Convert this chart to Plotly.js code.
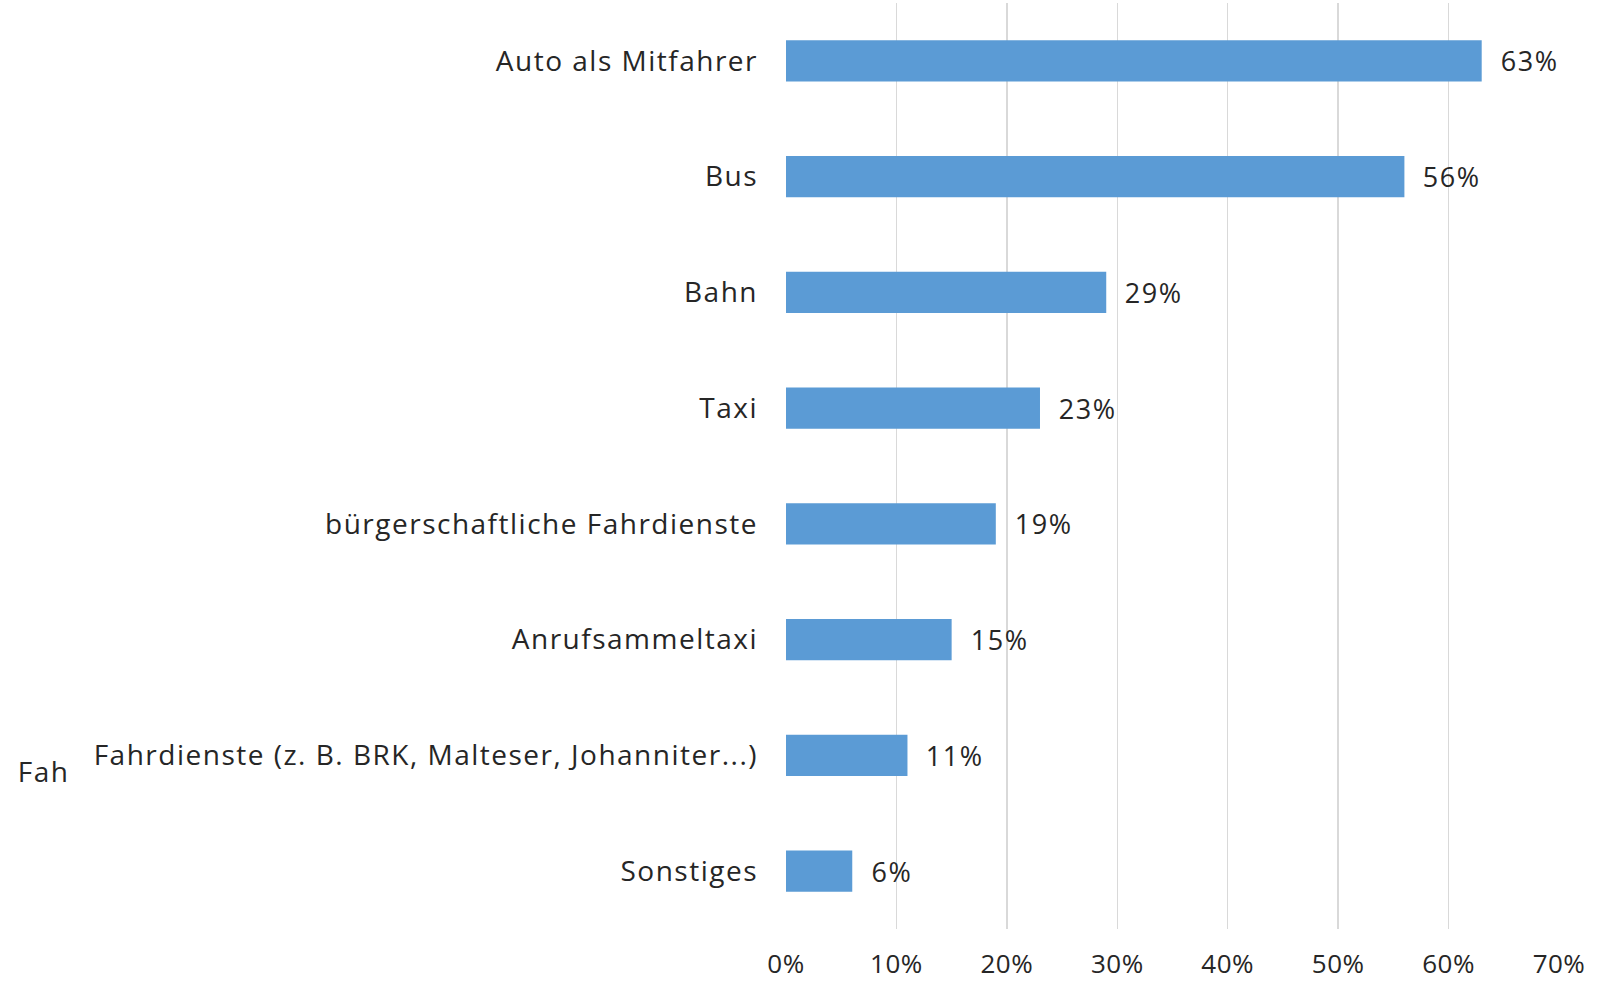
<!DOCTYPE html>
<html>
<head>
<meta charset="utf-8">
<script src="https://cdn.plot.ly/plotly-3.0.1.min.js"></script>
<style>
html,body{margin:0;padding:0;background:#fff;}
#chart{width:1610px;height:985px;}
#chart .ytick text, #chart .annotation-text { letter-spacing: 1.5px; }
#chart .xtick text { letter-spacing: 0.5px; }
</style>
</head>
<body>
<div id="chart"></div>
<script>
const categories = [
  "Auto als Mitfahrer",
  "Bus",
  "Bahn",
  "Taxi",
  "bürgerschaftliche Fahrdienste",
  "Anrufsammeltaxi",
  "Fahrdienste (z. B. BRK, Malteser, Johanniter...)",
  "Sonstiges"
];
const values = [0.63, 0.56, 0.29, 0.23, 0.19, 0.15, 0.11, 0.06];
const valueLabels = ["63%", "56%", "29%", "23%", "19%", "15%", "11%", "6%"];
const tickValues = [0, 0.1, 0.2, 0.3, 0.4, 0.5, 0.6, 0.7];
const tickLabels = ["0%", "10%", "20%", "30%", "40%", "50%", "60%", "70%"];
const strayLabel = "Fah";

const FONT = "'Open Sans', sans-serif";
const TXT = "#262626";

const trace = {
  type: "bar",
  orientation: "h",
  x: values,
  y: categories,
  marker: {color: "#5B9BD5", line: {width: 0}},
  width: 0.355,
  hoverinfo: "none"
};

const annotations = values.map((v, i) => ({
  x: v, y: categories[i], xref: "x", yref: "y",
  text: valueLabels[i], showarrow: false,
  xanchor: "left", yanchor: "middle", xshift: 19,
  font: {family: FONT, size: 27, color: TXT}
}));
annotations.push({
  x: 0, xref: "paper", y: categories[6], yref: "y",
  text: strayLabel, showarrow: false,
  xanchor: "left", yanchor: "middle", xshift: -768, yshift: -16,
  font: {family: FONT, size: 28, color: TXT}
});

const layout = {
  width: 1610, height: 985,
  margin: {l: 786, r: 51, t: 3, b: 56, pad: 0},
  paper_bgcolor: "#fff", plot_bgcolor: "#fff",
  showlegend: false,
  bargap: 0.645,
  xaxis: {
    range: [0, 0.7],
    tickvals: tickValues, ticktext: tickLabels,
    showgrid: true, gridcolor: "#D9D9D9", gridwidth: 1.3,
    zeroline: false, showline: false, ticks: "",
    ticklabelstandoff: 17,
    tickfont: {family: FONT, size: 26, color: TXT},
    fixedrange: true
  },
  yaxis: {
    type: "category",
    autorange: "reversed",
    showgrid: false, zeroline: false, showline: false, ticks: "",
    ticklabelstandoff: 27,
    tickfont: {family: FONT, size: 28, color: TXT},
    fixedrange: true
  },
  annotations: annotations
};

Plotly.newPlot("chart", [trace], layout, {displayModeBar: false, staticPlot: true});
</script>
</body>
</html>
